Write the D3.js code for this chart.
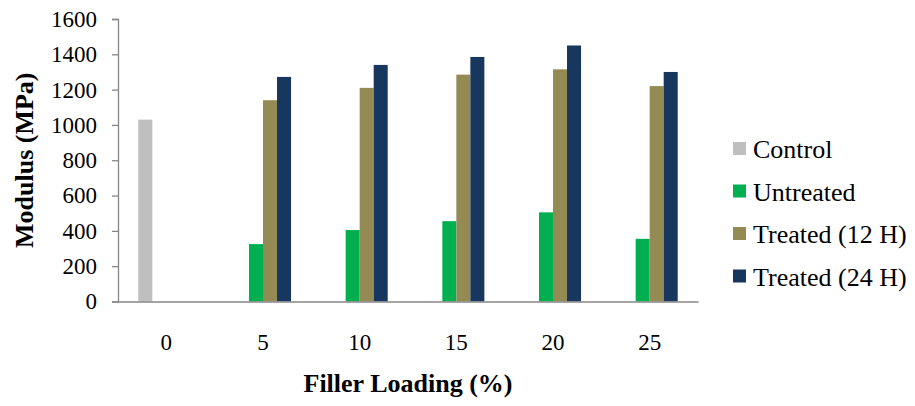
<!DOCTYPE html>
<html>
<head>
<meta charset="utf-8">
<script src="https://cdn.jsdelivr.net/npm/d3@7"></script>
<style>
  html, body { margin: 0; padding: 0; background: #fff; }
  svg { display: block; }
  text { font-family: "Liberation Serif", "Times New Roman", serif; fill: #000; }
</style>
</head>
<body>
<svg id="chart" width="915" height="406"></svg>
<script>
// Filler loading levels (%)
const categories = ["0", "5", "10", "15", "20", "25"];
// Series names, in legend order
const seriesNames = ["Control", "Untreated", "Treated (12 H)", "Treated (24 H)"];
// Modulus (MPa) per series, one entry per loading level (null = no bar)
const control   = [1030, null, null, null, null, null];
const untreated = [null, 325, 405, 455, 505, 355];
const treated12 = [null, 1140, 1210, 1285, 1315, 1220];
const treated24 = [null, 1272, 1340, 1385, 1450, 1300];
const yTicks = [0, 200, 400, 600, 800, 1000, 1200, 1400, 1600];
const colors = ["#BFBFBF", "#00B050", "#948A54", "#17375E"];

const seriesValues = [control, untreated, treated12, treated24];
const serif = "'Liberation Serif', 'Times New Roman', serif";

const svg = d3.select("#chart");
const margin = { left: 118, right: 217, top: 19, bottom: 104.5 };
const width = 915 - margin.left - margin.right;
const height = 406 - margin.top - margin.bottom;

const g = svg.append("g").attr("transform", `translate(${margin.left},${margin.top})`);

const x0 = d3.scaleBand().domain(categories).range([0, width]).paddingInner(0).paddingOuter(0);
const groupW = x0.bandwidth() * 0.58;
const x1 = d3.scaleBand().domain(seriesNames).range([0, groupW]).padding(0);
const y = d3.scaleLinear().domain([0, 1600]).range([height, 0]);

// Bars
const rows = [];
categories.forEach((c, i) => {
  seriesNames.forEach((s, j) => {
    const v = seriesValues[j][i];
    if (v != null) rows.push({ cat: c, series: s, value: v, color: colors[j] });
  });
});

g.selectAll("rect.bar")
  .data(rows)
  .join("rect")
  .attr("class", "bar")
  .attr("x", d => x0(d.cat) + (x0.bandwidth() - groupW) / 2 + x1(d.series))
  .attr("width", x1.bandwidth())
  .attr("y", d => y(d.value))
  .attr("height", d => y(0) - y(d.value))
  .attr("fill", d => d.color);

// Y axis
const yAxis = g.append("g")
  .call(d3.axisLeft(y).tickValues(yTicks).tickSize(6).tickPadding(15).tickFormat(d3.format("d")));
yAxis.select(".domain").attr("stroke", "#868686").attr("stroke-width", 1.3);
yAxis.selectAll(".tick line").attr("stroke", "#868686").attr("stroke-width", 1.3);
yAxis.selectAll(".tick text").style("font-size", "23px").style("font-family", serif).attr("fill", "#000");

// X axis (baseline only, no tick marks)
const xAxis = g.append("g")
  .attr("transform", `translate(0,${height})`)
  .call(d3.axisBottom(x0).tickSize(0).tickPadding(32));
xAxis.select(".domain").attr("stroke", "#868686").attr("stroke-width", 1.3);
xAxis.selectAll(".tick text").style("font-size", "23px").style("font-family", serif).attr("fill", "#000");

// Axis titles
svg.append("text")
  .attr("x", margin.left + width / 2)
  .attr("y", 392)
  .attr("text-anchor", "middle")
  .style("font-size", "26px")
  .style("font-weight", "bold")
  .style("font-family", serif)
  .text("Filler Loading (%)");

svg.append("text")
  .attr("transform", `translate(33,${margin.top + height / 2}) rotate(-90)`)
  .attr("text-anchor", "middle")
  .style("font-size", "26px")
  .style("font-weight", "bold")
  .style("font-family", serif)
  .text("Modulus (MPa)");

// Legend
const legend = svg.append("g").attr("transform", "translate(733,149)");
const item = legend.selectAll("g.item")
  .data(seriesNames)
  .join("g")
  .attr("class", "item")
  .attr("transform", (d, i) => `translate(0,${i * 42.5})`);
item.append("rect")
  .attr("x", 0).attr("y", -7)
  .attr("width", 13).attr("height", 13)
  .attr("fill", (d, i) => colors[i]);
item.append("text")
  .attr("x", 20).attr("y", 0)
  .attr("dy", "0.35em")
  .style("font-size", "26px")
  .style("font-family", serif)
  .text(d => d);
</script>
</body>
</html>
